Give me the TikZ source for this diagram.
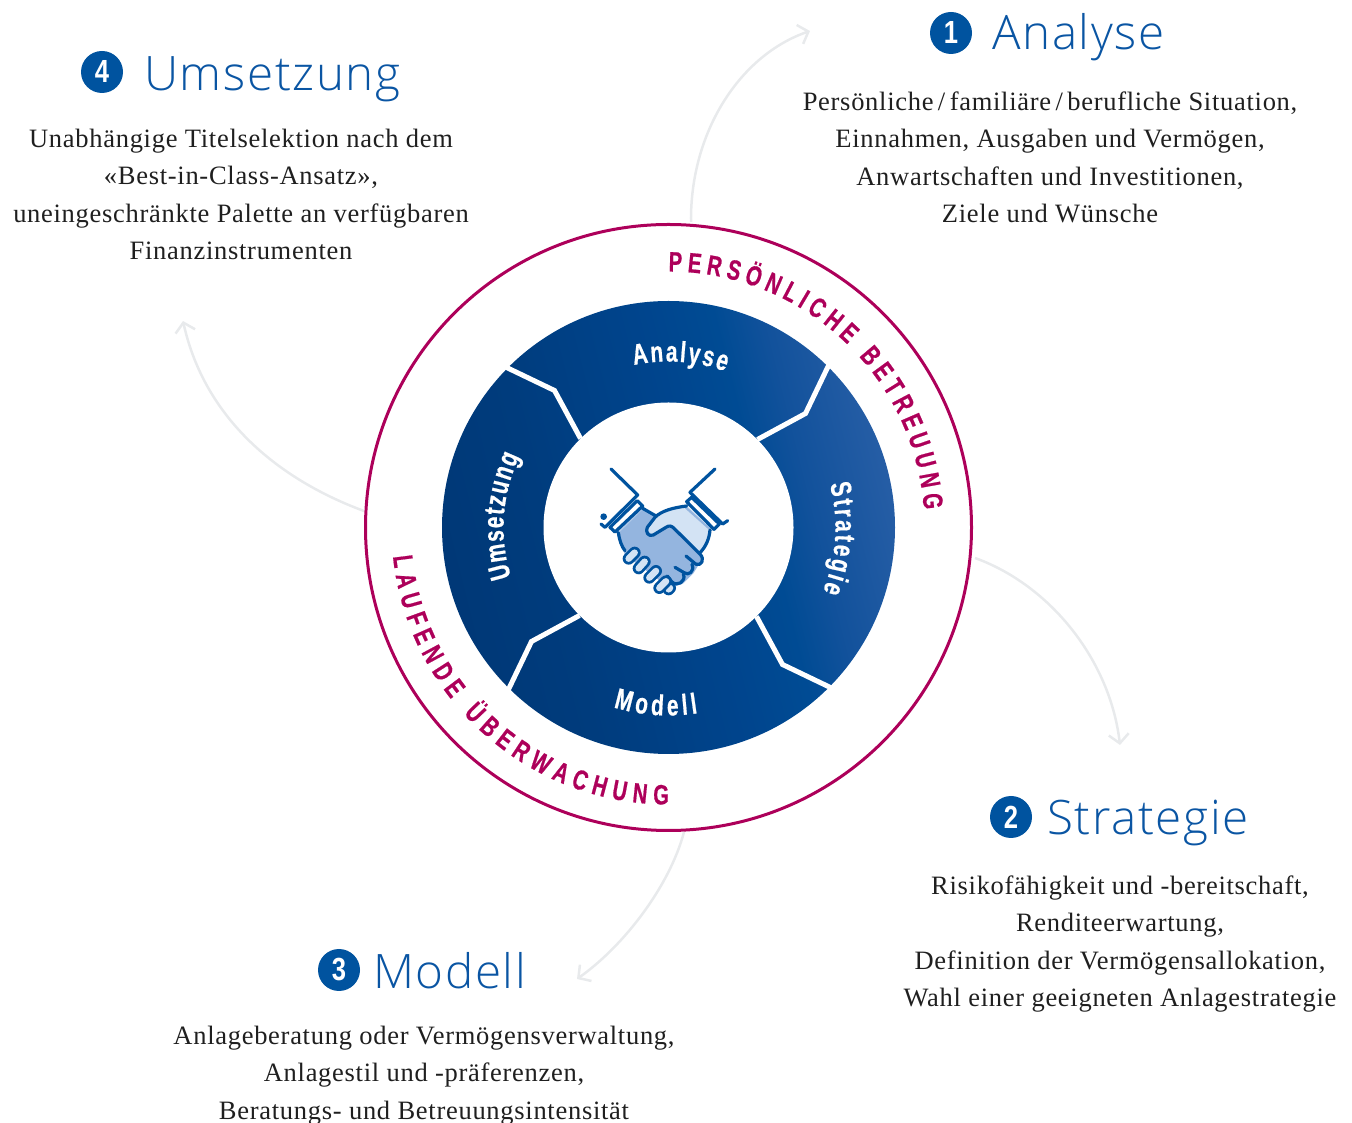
\documentclass[tikz,border=0pt]{standalone}
\usepackage{fontspec}
\usetikzlibrary{decorations.text,arrows.meta}
\setmainfont{Liberation Serif}
\newfontfamily\ttlfont{Open Sans Light}
\newfontfamily\numfont{Liberation Sans Bold}[FakeStretch=0.8]
\newfontfamily\condfont{Liberation Sans Bold}[FakeStretch=0.72,FakeBold=0.6]
\definecolor{ttlblue}{HTML}{0A55A3}
\definecolor{iconblue}{HTML}{00539F}
\definecolor{midfill}{HTML}{94B5DF}
\definecolor{lightfill}{HTML}{D3E3F4}
\definecolor{ringred}{HTML}{AD005A}
\definecolor{arrowgray}{HTML}{E8EAEC}
\pgfdeclarehorizontalshading{discshade}{100bp}{rgb(0bp)=(0,0.21,0.45); rgb(19.6bp)=(0,0.21,0.45); rgb(37.2bp)=(0,0.235,0.49); rgb(53bp)=(0,0.27,0.555); rgb(60bp)=(0,0.295,0.58); rgb(65bp)=(0.07,0.32,0.61); rgb(76bp)=(0.17,0.38,0.66); rgb(78bp)=(0.18,0.38,0.66); rgb(78.5bp)=(0.25,0.40,0.66); rgb(100bp)=(0.25,0.40,0.66)}
\tikzset{
  bodytext/.style={inner sep=0pt,align=center,anchor=north,text=black!88,font=\fontsize{26.5}{37.5}\selectfont\addfontfeatures{LetterSpace=2.7}},
  titletext/.style={inner sep=0pt,anchor=base west,text=ttlblue,font=\fontsize{47.5}{50}\ttlfont\addfontfeatures{LetterSpace=3.5}},
  numdisc/.style={circle,fill=iconblue,minimum size=42pt,inner sep=0pt,text=white,font=\fontsize{32}{32}\numfont},
  flowarrow/.style={draw=arrowgray,line width=2.5pt,-{Straight Barb[length=9pt,width=20pt]}},
  icon/.style={draw=iconblue,line width=3.2pt,line join=round,line cap=round},
  sep/.style={draw=white,line width=5pt,line join=miter},
  ringlabel/.style={decorate,decoration={text along path,text align={fit to path},text={|\fontsize{28}{28}\condfont\color{ringred}|#1}}},
  seglabel/.style={decorate,decoration={text along path,text align={fit to path},text={|\fontsize{29}{29}\condfont\color{white}|#1}}},
}
\begin{document}
\begin{tikzpicture}[x=1pt,y=1pt]
\useasboundingbox (0,0) rectangle (1352,1122);
\coordinate (c) at (668.5,594.5);
% disc
\begin{scope}
\clip (c) circle (226.5);
\shade[shading=discshade,shading angle=14] (c) ++(-240,-240) rectangle ++(480,480);
\end{scope}
\fill[white] (c) circle (125);
% separators
\draw[sep] (c) ++(161,164) -- ++(-24,-50) -- ++(-48,-26);
\draw[sep] (c) ++(164,-161) -- ++(-50,24) -- ++(-26,48);
\draw[sep] (c) ++(-161,-164) -- ++(24,50) -- ++(48,26);
\draw[sep] (c) ++(-164,161) -- ++(50,-24) -- ++(26,-48);
% ring
\node[draw=ringred,line width=3pt,circle,minimum size=606pt,inner sep=0pt] (ring) at (c) {};
% ring text
\path[ringlabel={PERSÖNLICHE BETREUUNG}] (c) ++(90:256) arc[start angle=90,end angle=4,radius=256];
\path[ringlabel={LAUFENDE ÜBERWACHUNG}] (c) ++(186:277) arc[start angle=186,end angle=270,radius=277];
% segment text
\path[seglabel={Analyse}] (c) ++(102:166) arc[start angle=102,end angle=70,radius=166];
\path[seglabel={Strategie}] (c) ++(15:167) arc[start angle=15,end angle=-22.5,radius=167];
\path[seglabel={Modell}] (c) ++(253:188) arc[start angle=253,end angle=279,radius=188];
\path[seglabel={Umsetzung}] (c) ++(197.5:165) arc[start angle=197.5,end angle=154.5,radius=165];
% titles
\node[numdisc] (n1) at (951,1089) {1};
\node[titletext] (t1) at (992,1072) {Analyse};
\node[numdisc] (n2) at (1011,305) {2};
\node[titletext] (t2) at (1047,287) {Strategie};
\node[numdisc] (n3) at (339,152) {3};
\node[titletext] (t3) at (373,133) {Modell};
\node[numdisc] (n4) at (102,1050) {4};
\node[titletext] (t4) at (144,1031) {Umsetzung};
% bodies
\node[bodytext] (b1) at (1050,1038.25) {\strut Persönliche\,/\,familiäre\,/\,berufliche Situation,\\Einnahmen, Ausgaben und Vermögen,\\Anwartschaften und Investitionen,\\Ziele und Wünsche};
\node[bodytext] (b4) at (241,1001.25) {\strut Unabhängige Titelselektion nach dem\\«Best-in-Class-Ansatz»,\\uneingeschränkte Palette an verfügbaren\\Finanzinstrumenten};
\node[bodytext] (b2) at (1120,254.25) {\strut Risikofähigkeit und -bereitschaft,\\Renditeerwartung,\\Definition der Vermögensallokation,\\Wahl einer geeigneten Anlagestrategie};
\node[bodytext] (b3) at (424,104.25) {\strut Anlageberatung oder Vermögensverwaltung,\\Anlagestil und -präferenzen,\\Beratungs- und Betreuungsintensität};
% arrows
\coordinate (a1s) at (691,900); \coordinate (a1e) at (810,1091);
\coordinate (a2s) at (975,564); \coordinate (a2e) at (1120,377);
\coordinate (a3s) at (684,290); \coordinate (a3e) at (577,143);
\coordinate (a4s) at (364,611); \coordinate (a4e) at (183,801);
\draw[flowarrow] (a1s) .. controls (690,990) and (740,1067) .. (a1e);
\draw[flowarrow] (a2s) .. controls (1050,537) and (1110,462) .. (a2e);
\draw[flowarrow] (a3s) .. controls (670,237) and (625,177) .. (a3e);
\draw[flowarrow] (a4s) .. controls (280,642) and (205,702) .. (a4e);
% icon
\begin{scope}[shift={(560,682)},x=0.33333pt,y=-0.33333pt]
\fill[lightfill] (380,198) .. controls (340,205) and (300,215) .. (262,262) -- (270,288) -- (330,258) -- (420,340) .. controls (440,320) and (450,295) .. (450,268) -- (465,262) -- cycle;
\fill[midfill] (175,278) -- (245,205) -- (288,228) -- (260,265) -- (275,287) -- (330,258) -- (430,352) -- (400,400) -- (370,430) -- (330,445) -- (195,345) -- (188,325) -- cycle;
\fill[white] (232,182) -- (248,198) -- (165,276) -- (150,262) -- cycle;
\fill[white] (382,180) -- (478,262) -- (462,268) -- (380,195) -- cycle;
\fill[midfill!70!white] (243,203) -- (165,276) -- (175,280) -- (248,208) -- cycle;
\fill[midfill] (380,200) -- (458,272) -- (450,272) -- (375,205) -- cycle;
\draw[icon] (153,87) -- (233,165) -- (135,262) -- (123,252);
\fill[iconblue] (131,230) circle[radius=10];
\draw[icon] (232,182) -- (248,198) -- (165,276) -- (150,262) -- cycle;
\draw[icon] (465,87) -- (390,157) -- (488,252) -- (503,242);
\draw[icon] (395,172) -- (380,185) -- (462,268) -- (478,252) -- cycle;
\draw[icon] (248,205) -- (288,228);
\draw[icon] (175,278) .. controls (178,300) and (185,320) .. (195,332);
\draw[icon] (450,270) .. controls (448,295) and (438,320) .. (420,338);
\draw[icon] (380,198) .. controls (340,203) and (305,212) .. (285,232) -- (262,262) .. controls (255,275) and (265,292) .. (280,285) -- (318,262) .. controls (328,255) and (335,258) .. (342,265) -- (420,342) .. controls (435,358) and (425,378) .. (408,373) -- (378,348);
\draw[icon] (396,373) .. controls (405,395) and (385,408) .. (372,398) -- (345,382);
\draw[icon] (370,402) .. controls (380,425) and (350,442) .. (335,425) -- (322,408);
\draw[line width=12pt,draw=iconblue,line cap=round] (326,448) -- (330,444);
\draw[line width=6.5pt,draw=lightfill,line cap=round] (326,448) -- (330,444);
\foreach \xa/\ya/\xb/\yb in {206/356/224/338,236/385/254/365,268/413/288/393,298/444/318/424}{
  \draw[line width=12pt,draw=iconblue,line cap=round] (\xa,\ya) -- (\xb,\yb);
  \draw[line width=6.5pt,draw=lightfill,line cap=round] (\xa,\ya) -- (\xb,\yb);
}
\end{scope}
\end{tikzpicture}
\end{document}
